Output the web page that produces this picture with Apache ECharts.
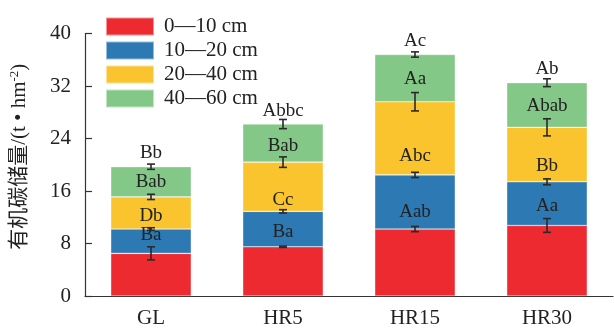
<!DOCTYPE html>
<html><head><meta charset="utf-8">
<script src="https://cdn.jsdelivr.net/npm/echarts@6/dist/echarts.min.js"></script>
<style>html,body{margin:0;padding:0;background:#fff}#c{width:614px;height:329px}</style>
</head><body><div id="c"></div>
<script>
const categories = ['GL', 'HR5', 'HR15', 'HR30'];
const seriesNames = ['0\u201410 cm', '10\u201420 cm', '20\u201440 cm', '40\u201460 cm'];
const d0_10 = [6.5, 7.5, 10.2, 10.75];
const d10_20 = [3.7, 5.4, 8.25, 6.65];
const d20_40 = [4.9, 7.5, 11.15, 8.3];
const d40_60 = [4.6, 5.8, 7.2, 6.8];
const sd0_10 = [1.0, 0.1, 0.4, 1.05];
const sd10_20 = [0.2, 0.25, 0.4, 0.45];
const sd20_40 = [0.4, 0.8, 1.4, 1.3];
const sd40_60 = [0.4, 0.7, 0.4, 0.6];
const lab0_10 = ['', '', '', ''];
const lab10_20 = ['Ba', 'Ba', 'Aab', 'Aa'];
const lab20_40 = ['Db', 'Cc', 'Abc', 'Bb'];
const lab40_60 = ['Bab', 'Bab', 'Aa', 'Abab'];
const labTotal = ['Bb', 'Abbc', 'Ac', 'Ab'];
const yTicks = [0, 8, 16, 24, 32, 40];

// style-only offsets for label placement within segments (px)
const off10_20 = [-6, 3, 10, 2];
const off20_40 = [3, 13, 18, 11];
const off40_60 = [0, 3, 1, 1];

const colors = ['#ee2a31', '#2c79b3', '#fac42e', '#84c887'];
const FONT = '"Liberation Serif", "Times New Roman", "Noto Sans CJK SC", serif';

const values = [d0_10, d10_20, d20_40, d40_60];
const sds = [sd0_10, sd10_20, sd20_40, sd40_60];
const labs = [lab0_10, lab10_20, lab20_40, lab40_60];
const offs = [[0,0,0,0], off10_20, off20_40, off40_60];

const tops = values.map((arr, si) => arr.map((v, i) => {
  let s = 0; for (let k = 0; k <= si; k++) s += values[k][i]; return s;
}));
const totals = tops[3];

const errData = [];
tops.forEach((arr, si) => arr.forEach((t, i) => errData.push([i, t, sds[si][i]])));

const barSeries = values.map((arr, si) => ({
  name: seriesNames[si],
  type: 'bar',
  stack: 'total',
  barWidth: '61%',
  itemStyle: { color: colors[si], borderColor: 'rgba(255,255,255,0.5)', borderWidth: 0.6 },
  data: arr.map((v, i) => ({
    value: v,
    label: {
      show: labs[si][i] !== '',
      formatter: labs[si][i],
      position: 'inside',
      offset: [0, offs[si][i]],
      color: '#222',
      fontSize: 19,
      fontFamily: FONT
    }
  }))
}));

const chart = echarts.init(document.getElementById('c'));
chart.setOption({
  animation: false,
  grid: { left: 82, right: 1, top: 33.5, bottom: 30 },
  legend: {
    orient: 'vertical',
    left: 100, top: 11,
    itemWidth: 48, itemHeight: 18, itemGap: 3,
    icon: 'rect',
    textStyle: { fontSize: 21, fontFamily: FONT, color: '#222', padding: [0, 0, 0, 5] },
    data: seriesNames
  },
  xAxis: {
    type: 'category',
    data: categories,
    axisLine: { lineStyle: { color: '#333', width: 1.2 } },
    axisTick: { show: false },
    axisLabel: { fontSize: 21, fontFamily: FONT, color: '#222', margin: 12 }
  },
  yAxis: {
    type: 'value',
    min: yTicks[0], max: yTicks[yTicks.length - 1], interval: 8,
    name: '有机碳储量/(t • hm{sup|-2})',
    nameLocation: 'middle',
    nameGap: 54,
    nameRotate: 90,
    nameTextStyle: {
      fontSize: 21, fontFamily: FONT, color: '#222', padding: [0, 0, 0, 16],
      rich: { sup: { fontSize: 13, fontFamily: FONT, color: '#222', padding: [0, 0, 10, 0] } }
    },
    splitLine: { show: false },
    axisLine: { show: true, lineStyle: { color: '#333', width: 1.2 } },
    axisTick: { show: true, inside: true, length: 7, lineStyle: { color: '#333', width: 1.2 } },
    axisLabel: { fontSize: 21, fontFamily: FONT, color: '#222', margin: 14 }
  },
  series: barSeries.concat([
    {
      type: 'custom',
      name: 'err',
      z: 10,
      renderItem: function (params, api) {
        const x = api.value(0), y = api.value(1), e = api.value(2);
        const hi = api.coord([x, y + e]);
        const lo = api.coord([x, y - e]);
        const cw = 4;
        const st = { stroke: '#2a2a2a', lineWidth: 1.6 };
        return {
          type: 'group',
          children: [
            { type: 'line', shape: { x1: hi[0], y1: hi[1], x2: lo[0], y2: lo[1] }, style: st },
            { type: 'line', shape: { x1: hi[0] - cw, y1: hi[1], x2: hi[0] + cw, y2: hi[1] }, style: st },
            { type: 'line', shape: { x1: lo[0] - cw, y1: lo[1], x2: lo[0] + cw, y2: lo[1] }, style: st }
          ]
        };
      },
      encode: { x: 0, y: 1 },
      data: errData
    },
    {
      type: 'scatter',
      name: 'tot',
      symbolSize: 0,
      itemStyle: { opacity: 1 },
      data: totals.map((t, i) => [i, t]),
      label: {
        show: true,
        position: 'top',
        distance: 4,
        opacity: 1,
        formatter: p => labTotal[p.dataIndex],
        color: '#222', fontSize: 19, fontFamily: FONT
      }
    }
  ])
});
</script></body></html>
